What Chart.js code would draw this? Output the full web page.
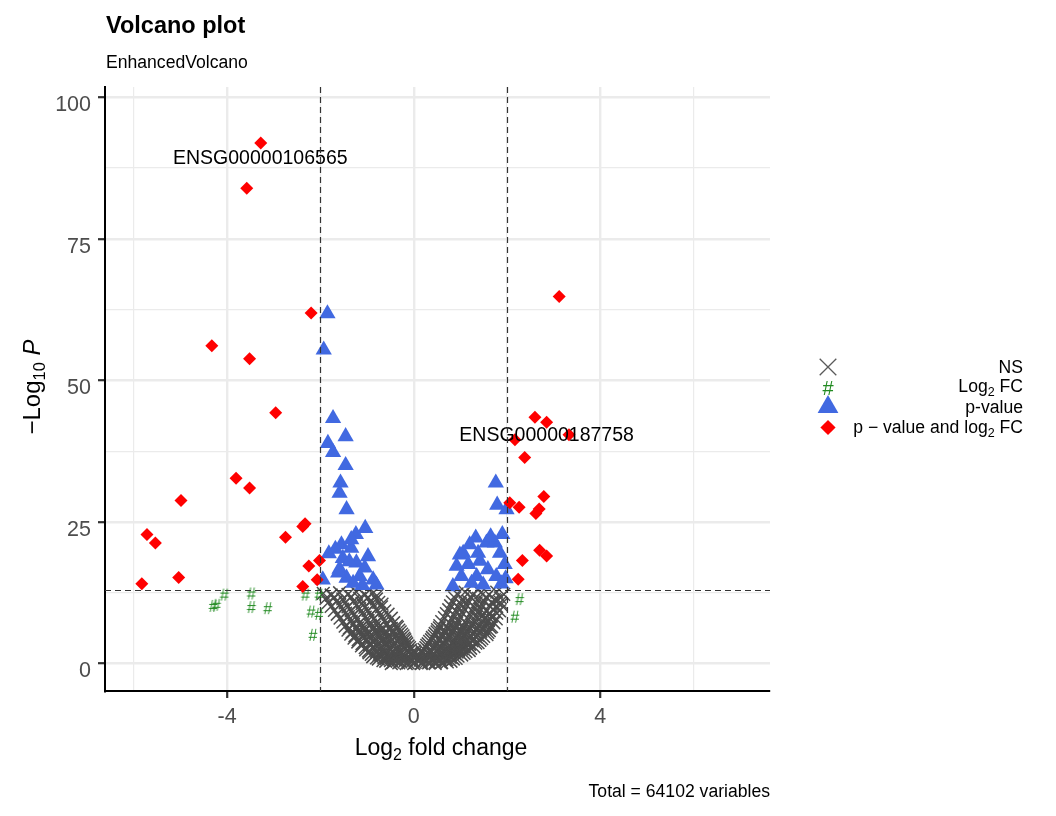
<!DOCTYPE html>
<html><head><meta charset="utf-8">
<script src="https://cdn.jsdelivr.net/npm/chart.js@4.4.1/dist/chart.umd.min.js"></script>
<style>html,body{margin:0;padding:0;background:#fff;}canvas{display:block;}</style>
</head><body>
<canvas id="c" width="1056" height="816"></canvas>
<script>
const FONT = '"Liberation Sans", Arial, Helvetica, sans-serif';
const titleText = 'Volcano plot';
const subtitleText = 'EnhancedVolcano';
const captionText = 'Total = 64102 variables';
const legendNames = ['NS', 'Log2 FC', 'p-value', 'p - value and log2 FC'];
const xTicks = [-6, -4, -2, 0, 2, 4, 6];
const xTickLabels = ['', '-4', '', '0', '', '4', ''];
const yTicks = [0, 12.5, 25, 37.5, 50, 62.5, 75, 87.5, 100];
const yTickLabels = ['0', '', '25', '', '50', '', '75', '', '100'];
const xRange = [-6.62, 7.64];
const yRange = [-4.85, 101.8];
const fcCutoff = 2;
const pCutoffLine = 12.9;
const geneNames = ['ENSG00000106565', 'ENSG00000187758'];
const geneLabelX = [-3.29, 2.85];
const geneLabelY = [89.1, 40.2];

const nsPoints = [
 [-1.94,12.4],[-1.77,12.1],[-1.59,12.5],[-1.41,12.2],[-1.23,12.6],[-1.05,12.1],[-0.88,12.4],[-0.79,12.0],
 [0.93,12.3],[1.10,12.6],[1.27,12.1],[1.44,12.5],[1.61,12.2],[1.78,12.6],[1.93,12.2],
 [-1.88,11.5],[-1.70,11.7],[-1.52,11.4],[-1.34,11.8],[-1.16,11.5],[-0.98,11.7],[-0.80,11.4],
 [0.88,11.6],[1.05,11.4],[1.22,11.8],[1.39,11.5],[1.56,11.7],[1.73,11.3],[1.86,11.6],
 [-1.83,10.8],[-1.65,11.0],[-1.47,10.7],[-1.29,11.0],[-1.11,10.6],[-0.93,11.0],[-0.75,10.8],[-0.68,10.5],
 [0.83,10.9],[1.00,10.6],[1.17,11.0],[1.34,10.7],[1.51,11.0],[1.68,10.7],[1.76,11.1],[1.86,10.8],
 [-1.77,10.1],[-1.59,10.3],[-1.41,10.0],[-1.23,10.3],[-1.05,9.9],[-0.87,10.2],[-0.69,10.0],
 [0.79,10.2],[0.96,9.9],[1.13,10.3],[1.30,10.0],[1.47,10.3],[1.64,10.0],[1.78,10.1],[1.87,10.4],
 [-1.70,9.4],[-1.52,9.6],[-1.34,9.3],[-1.16,9.7],[-0.98,9.4],[-0.80,9.6],[-0.62,9.3],
 [0.75,9.5],[0.92,9.2],[1.09,9.6],[1.26,9.3],[1.43,9.6],[1.56,9.4],[1.70,9.6],[1.84,9.3],
 [-1.64,8.7],[-1.46,8.9],[-1.28,8.6],[-1.10,8.9],[-0.92,8.6],[-0.74,8.9],[-0.55,8.7],
 [0.70,8.8],[0.87,8.5],[1.04,8.9],[1.21,8.6],[1.38,8.9],[1.49,8.6],[1.63,8.7],[1.78,8.9],
 [-1.58,8.0],[-1.40,8.3],[-1.22,7.9],[-1.04,8.2],[-0.86,7.9],[-0.68,8.2],[-0.48,8.0],
 [0.66,8.1],[0.83,7.8],[1.00,8.2],[1.17,7.9],[1.34,8.2],[1.40,7.7],[1.52,8.0],[1.66,8.3],[1.77,7.9],
 [-1.52,7.3],[-1.34,7.5],[-1.16,7.2],[-0.98,7.6],[-0.80,7.3],[-0.62,7.5],[-0.43,7.2],
 [0.60,7.4],[0.77,7.1],[0.94,7.5],[1.11,7.2],[1.29,7.4],[1.45,7.3],[1.60,7.6],[1.72,7.2],
 [-1.47,6.6],[-1.29,6.9],[-1.11,6.5],[-0.93,6.8],[-0.75,6.5],[-0.57,6.9],[-0.37,6.6],
 [0.56,6.7],[0.73,6.4],[0.90,6.8],[1.07,6.5],[1.24,6.8],[1.40,6.6],[1.55,6.9],[1.67,6.5],
 [-1.38,6.3],[-1.20,6.3],[-1.02,6.2],[-0.84,6.4],[-0.66,6.3],[-0.48,6.2],[-0.35,6.4],
 [0.55,6.3],[0.72,6.2],[0.89,6.4],[1.06,6.2],[1.20,6.3],[1.36,6.3],[1.52,6.2],[1.64,6.4],
 [-1.41,5.9],[-1.23,6.2],[-1.05,5.8],[-0.87,6.1],[-0.69,5.8],[-0.51,6.1],[-0.32,5.9],
 [0.51,6.0],[0.68,5.7],[0.85,6.1],[1.02,5.8],[1.18,6.0],[1.33,5.9],[1.48,6.1],[1.62,5.8],
 [-1.32,5.6],[-1.14,5.7],[-0.96,5.6],[-0.78,5.6],[-0.60,5.7],[-0.42,5.6],[-0.29,5.6],
 [0.50,5.6],[0.67,5.5],[0.84,5.7],[1.01,5.6],[1.14,5.6],[1.29,5.6],[1.44,5.7],[1.59,5.5],
 [-1.35,5.2],[-1.17,5.5],[-0.99,5.1],[-0.81,5.4],[-0.63,5.1],[-0.45,5.4],[-0.26,5.2],
 [0.46,5.3],[0.63,5.0],[0.80,5.4],[0.97,5.1],[1.12,5.3],[1.27,5.2],[1.42,5.4],[1.57,5.1],
 [-1.26,4.9],[-1.08,4.9],[-0.90,5.0],[-0.72,4.8],[-0.54,4.9],[-0.36,5.0],[-0.23,4.9],
 [0.44,4.9],[0.61,4.8],[0.78,5.0],[0.95,4.9],[1.08,4.9],[1.23,4.9],[1.37,5.0],[1.50,4.8],
 [-1.28,4.5],[-1.10,4.8],[-0.92,4.4],[-0.74,4.7],[-0.56,4.4],[-0.38,4.7],[-0.21,4.5],
 [0.40,4.6],[0.57,4.3],[0.74,4.7],[0.91,4.4],[1.05,4.6],[1.19,4.5],[1.33,4.7],[1.46,4.4],
 [-1.19,4.2],[-1.01,4.2],[-0.83,4.3],[-0.65,4.2],[-0.47,4.2],[-0.30,4.3],[-0.19,4.2],
 [0.38,4.2],[0.55,4.2],[0.72,4.3],[0.88,4.2],[1.00,4.2],[1.14,4.2],[1.28,4.3],[1.42,4.1],
 [-1.20,3.8],[-1.03,4.1],[-0.86,3.7],[-0.69,4.0],[-0.52,3.7],[-0.35,4.0],[-0.17,3.8],
 [0.34,3.9],[0.51,3.6],[0.68,4.0],[0.85,3.7],[0.98,3.9],[1.12,3.8],[1.25,4.0],[1.38,3.7],
 [-1.11,3.5],[-0.94,3.4],[-0.77,3.5],[-0.60,3.6],[-0.43,3.5],[-0.27,3.4],[-0.15,3.5],
 [0.31,3.5],[0.48,3.4],[0.64,3.5],[0.80,3.6],[0.92,3.5],[1.06,3.5],[1.20,3.4],[1.33,3.6],
 [-1.12,3.1],[-0.95,3.3],[-0.78,3.0],[-0.61,3.3],[-0.44,3.0],[-0.27,3.3],[-0.12,3.1],
 [0.28,3.2],[0.45,2.9],[0.62,3.3],[0.78,3.0],[0.88,3.2],[1.02,3.1],[1.16,3.3],[1.29,3.0],
 [-1.04,2.8],[-0.87,2.8],[-0.70,2.9],[-0.53,2.8],[-0.36,2.8],[-0.20,2.9],[-0.09,2.8],
 [0.26,2.8],[0.42,2.8],[0.58,2.9],[0.74,2.8],[0.80,2.7],[0.93,2.8],[1.08,2.9],[1.22,2.7],
 [-1.03,2.4],[-0.86,2.7],[-0.69,2.3],[-0.52,2.6],[-0.35,2.3],[-0.19,2.6],[-0.07,2.4],
 [0.22,2.5],[0.38,2.2],[0.54,2.6],[0.70,2.3],[0.86,2.4],[1.03,2.6],[1.19,2.3],
 [-0.97,2.2],[-0.80,2.2],[-0.63,2.3],[-0.46,2.2],[-0.29,2.2],[-0.13,2.3],[0.02,2.2],[0.17,2.2],[0.33,2.3],[0.49,2.2],[0.64,2.2],[0.80,2.2],[0.96,2.3],[1.12,2.1],
 [-0.96,1.9],[-0.79,2.0],[-0.62,1.8],[-0.45,2.0],[-0.28,1.7],[-0.12,2.0],[0.03,1.8],[0.18,1.9],[0.34,1.7],[0.50,2.0],[0.62,1.8],[0.77,1.9],[0.93,2.0],[1.08,1.8],
 [-0.91,1.6],[-0.74,1.6],[-0.57,1.7],[-0.40,1.6],[-0.23,1.6],[-0.07,1.7],[0.09,1.6],[0.25,1.6],[0.41,1.7],[0.57,1.6],[0.73,1.6],[0.89,1.7],[1.03,1.5],
 [-0.88,1.2],[-0.71,1.5],[-0.54,1.1],[-0.37,1.4],[-0.20,1.1],[-0.04,1.4],[0.12,1.1],[0.28,1.4],[0.44,1.2],[0.52,1.0],[0.66,1.3],[0.81,1.1],[0.95,1.3],
 [-0.80,1.0],[-0.64,1.0],[-0.47,1.1],[-0.31,1.0],[-0.15,1.0],[0.01,1.1],[0.17,1.0],[0.33,1.0],[0.48,1.1],[0.63,1.0],[0.78,1.1],[0.91,0.9],
 [-0.76,0.8],[-0.59,0.9],[-0.42,0.7],[-0.25,0.9],[-0.08,0.6],[0.08,0.8],[0.24,0.7],[0.40,0.8],[0.56,0.8],[0.71,0.7],[0.85,0.8],
 [-0.66,0.5],[-0.50,0.5],[-0.34,0.6],[-0.18,0.5],[-0.02,0.5],[0.14,0.6],[0.29,0.5],[0.41,0.5],[0.55,0.5],[0.68,0.6],[0.80,0.4],
 [-0.60,0.4],[-0.44,0.2],[-0.28,0.3],[-0.12,0.1],[0.03,0.2],[0.18,0.1],[0.33,0.3],[0.47,0.3],[0.60,0.2],[0.72,0.3],
 [-0.48,0.0],[-0.32,0.1],[-0.16,0.0],[0.00,0.0],[0.16,0.0],[0.32,0.1],[0.46,0.0],[0.59,0.1]
];
const fcPoints = [
 [-4.06,12.0],[-4.23,10.2],[-4.30,10.0],[-3.48,12.2],[-3.48,9.8],[-3.13,9.6],
 [-2.32,12.0],[-2.03,12.0],[-2.20,9.0],[-2.03,8.6],[-2.16,4.9],
 [2.27,11.2],[2.17,8.1]
];
const pPoints = [
 [-1.85,61.8],[-1.93,55.4],[-1.73,43.3],[-1.46,40.1],[-1.84,38.9],[-1.73,37.3],[-1.46,35.0],
 [-1.57,31.9],[-1.59,30.1],[-1.44,27.2],[-1.04,23.9],[-1.24,22.8],[-1.55,21.0],[-1.82,19.4],
 [-1.34,20.4],[-0.98,18.9],[-1.52,18.6],[-1.23,17.8],[-1.59,16.7],[-1.05,16.9],[-1.44,15.1],
 [-1.16,15.4],[-0.87,14.8],[-1.95,14.8],[-0.80,13.9],[-1.62,16.0],[-1.34,21.9],[-1.38,18.0],
 [-1.68,20.2],[-1.10,13.8],[-1.30,14.2],
 [1.76,31.9],[1.79,28.0],[1.99,27.2],[1.33,22.2],[1.90,22.8],[1.56,21.3],[1.74,21.3],
 [0.99,19.2],[1.38,19.5],[1.85,19.5],[0.92,17.2],[1.17,17.5],[1.42,18.1],[1.59,16.6],
 [1.95,17.5],[1.02,15.4],[1.35,15.4],[1.77,15.4],[0.84,13.6],[1.49,13.9],[1.88,14.1],
 [1.24,14.2],[1.06,19.5],[1.65,22.4],[1.20,21.0],[1.97,15.0]
];
const bothPoints = [
 [-3.28,91.9],[-3.58,83.9],[-2.20,61.9],[-4.33,56.1],[-3.52,53.8],[-2.96,44.3],[-3.81,32.7],
 [-3.52,31.0],[-4.99,28.8],[-5.72,22.8],[-5.54,21.3],[-5.83,14.1],[-5.04,15.2],[-2.33,24.7],
 [-2.38,24.2],[-2.75,22.3],[-2.02,18.2],[-2.25,17.2],[-2.07,14.8],[-2.38,13.6],
 [3.12,64.8],[2.60,43.5],[2.85,42.6],[3.33,40.4],[2.17,39.5],[2.38,36.4],[2.79,29.5],
 [2.06,28.4],[2.26,27.6],[2.69,27.3],[2.62,26.5],[2.70,20.0],[2.85,19.0],[2.33,18.2],[2.24,14.9]
];

const COL_NS = '#4d4d4d', COL_FC = '#228B22', COL_P = '#4169E1', COL_BOTH = '#FF0000';
const toXY = a => a.map(p => ({x: p[0], y: p[1]}));

function hashImage(size, color) {
  const cv = document.createElement('canvas');
  cv.width = Math.ceil(size); cv.height = Math.ceil(size * 1.1);
  const g = cv.getContext('2d');
  g.fillStyle = color; g.font = size + 'px ' + FONT;
  g.textAlign = 'center'; g.textBaseline = 'middle';
  g.fillText('#', cv.width / 2, cv.height / 2 + 1);
  return cv;
}
const hashPlot = hashImage(16, COL_FC);

function drawRich(ctx, segs, x, y, align) {
  let total = 0;
  segs.forEach(s => { ctx.font = (s.style || '') + ' ' + s.size + 'px ' + FONT; s.w = ctx.measureText(s.t).width; total += s.w; });
  let cx = align === 'right' ? x - total : align === 'center' ? x - total / 2 : x;
  ctx.textAlign = 'left'; ctx.textBaseline = 'alphabetic';
  segs.forEach(s => { ctx.font = (s.style || '') + ' ' + s.size + 'px ' + FONT; ctx.fillText(s.t, cx, y + (s.dy || 0)); cx += s.w; });
}

const decor = {
  id: 'decor',
  afterDatasetsDraw(chart) {
    const ctx = chart.ctx, xs = chart.scales.x, ys = chart.scales.y, a = chart.chartArea;
    ctx.save();
    ctx.fillStyle = '#000'; ctx.font = '19.5px ' + FONT; ctx.textAlign = 'center'; ctx.textBaseline = 'middle';
    geneNames.forEach((n, i) => ctx.fillText(n, xs.getPixelForValue(geneLabelX[i]), ys.getPixelForValue(geneLabelY[i])));
    ctx.beginPath(); ctx.rect(a.left, a.top, a.right - a.left, a.bottom - a.top); ctx.clip();
    ctx.strokeStyle = '#333'; ctx.lineWidth = 1.2; ctx.setLineDash([6, 4]);
    [-fcCutoff, fcCutoff].forEach(v => { const px = Math.round(xs.getPixelForValue(v)) + 0.5; ctx.beginPath(); ctx.moveTo(px, a.top); ctx.lineTo(px, a.bottom); ctx.stroke(); });
    const py = Math.round(ys.getPixelForValue(pCutoffLine)) + 0.5;
    ctx.beginPath(); ctx.moveTo(a.left, py); ctx.lineTo(a.right, py); ctx.stroke();
    ctx.restore();
  },
  afterDraw(chart) {
    const ctx = chart.ctx;
    ctx.save();
    ctx.fillStyle = '#000';
    ctx.textAlign = 'left'; ctx.textBaseline = 'alphabetic';
    ctx.font = 'bold 23.5px ' + FONT; ctx.fillText(titleText, 106, 33);
    ctx.font = '17.6px ' + FONT; ctx.fillText(subtitleText, 106, 67.5);
    ctx.textAlign = 'right'; ctx.fillText(captionText, 770, 797);
    drawRich(ctx, [{t: 'Log', size: 23}, {t: '2', size: 16, dy: 5}, {t: ' fold change', size: 23}], 441, 755, 'center');
    ctx.save(); ctx.translate(40, 387); ctx.rotate(-Math.PI / 2);
    drawRich(ctx, [{t: '\u2212Log', size: 24}, {t: '10', size: 16.5, dy: 5}, {t: ' ', size: 24}, {t: 'P', size: 24, style: 'italic'}], 0, 0, 'center');
    ctx.restore();
    const mx = 828, rx = 1023;
    ctx.strokeStyle = '#5a5a5a'; ctx.lineWidth = 1.3;
    let cy = 367, h = 8.3;
    ctx.beginPath(); ctx.moveTo(mx - h, cy - h); ctx.lineTo(mx + h, cy + h); ctx.moveTo(mx + h, cy - h); ctx.lineTo(mx - h, cy + h); ctx.stroke();
    ctx.fillStyle = COL_FC; ctx.font = '20px ' + FONT; ctx.textAlign = 'center'; ctx.textBaseline = 'middle';
    ctx.fillText('#', mx, 389);
    ctx.fillStyle = COL_P; cy = 407; const r = 12;
    ctx.beginPath(); ctx.moveTo(mx, cy - r); ctx.lineTo(mx + r * 0.866, cy + r * 0.5); ctx.lineTo(mx - r * 0.866, cy + r * 0.5); ctx.closePath(); ctx.fill();
    ctx.fillStyle = COL_BOTH; cy = 427.5; const d = 7.6;
    ctx.beginPath(); ctx.moveTo(mx, cy - d); ctx.lineTo(mx + d, cy); ctx.lineTo(mx, cy + d); ctx.lineTo(mx - d, cy); ctx.closePath(); ctx.fill();
    ctx.fillStyle = '#000';
    drawRich(ctx, [{t: legendNames[0], size: 17.6}], rx, 373, 'right');
    drawRich(ctx, [{t: 'Log', size: 17.6}, {t: '2', size: 12.5, dy: 4}, {t: ' FC', size: 17.6}], rx, 391.5, 'right');
    drawRich(ctx, [{t: legendNames[2], size: 17.6}], rx, 413, 'right');
    drawRich(ctx, [{t: 'p \u2212 value and log', size: 17.6}, {t: '2', size: 12.5, dy: 4}, {t: ' FC', size: 17.6}], rx, 432.5, 'right');
    ctx.restore();
  }
};

const isMajor = (v, arr, labels) => labels[arr.indexOf(v)] !== '';

new Chart(document.getElementById('c'), {
  type: 'scatter',
  data: {
    datasets: [
      {label: legendNames[0], data: toXY(nsPoints), pointStyle: 'crossRot', pointRadius: 9, borderColor: COL_NS, backgroundColor: COL_NS, pointBorderWidth: 1.5, order: 4},
      {label: legendNames[1], data: toXY(fcPoints), pointStyle: hashPlot, pointRadius: 7, order: 3},
      {label: legendNames[2], data: toXY(pPoints), pointStyle: 'triangle', pointRadius: 9.4, borderColor: COL_P, backgroundColor: COL_P, pointBorderWidth: 0, order: 2},
      {label: legendNames[3], data: toXY(bothPoints), pointStyle: 'rectRot', pointRadius: 6.5, borderColor: COL_BOTH, backgroundColor: COL_BOTH, pointBorderWidth: 0, order: 1}
    ]
  },
  options: {
    responsive: false, animation: false, devicePixelRatio: 1,
    layout: {padding: {top: 87, right: 286, left: 0, bottom: 0}},
    plugins: {legend: {display: false}, tooltip: {enabled: false}, title: {display: false}},
    scales: {
      x: {
        type: 'linear', min: xRange[0], max: xRange[1],
        afterBuildTicks: s => { s.ticks = xTicks.map(v => ({value: v})); },
        afterFit: s => { s.height = 125; },
        ticks: {callback: (v) => xTickLabels[xTicks.indexOf(v)] ?? '', color: '#4d4d4d', font: {size: 21.5, family: FONT}, padding: 6, maxRotation: 0, autoSkip: false},
        grid: {color: '#ebebeb', lineWidth: c => isMajor(c.tick.value, xTicks, xTickLabels) ? 2.4 : 1.2, tickLength: 7, tickWidth: 2.2,
               tickColor: c => isMajor(c.tick.value, xTicks, xTickLabels) ? '#333' : 'rgba(0,0,0,0)'},
        border: {display: true, color: '#000', width: 2}
      },
      y: {
        type: 'linear', min: yRange[0], max: yRange[1],
        afterBuildTicks: s => { s.ticks = yTicks.map(v => ({value: v})); },
        afterFit: s => { s.width = 105; },
        ticks: {callback: (v) => yTickLabels[yTicks.indexOf(v)] ?? '', color: '#4d4d4d', font: {size: 21.5, family: FONT}, padding: 7, labelOffset: 8, autoSkip: false},
        grid: {color: '#ebebeb', lineWidth: c => isMajor(c.tick.value, yTicks, yTickLabels) ? 2.4 : 1.2, tickLength: 7, tickWidth: 2.2,
               tickColor: c => isMajor(c.tick.value, yTicks, yTickLabels) ? '#333' : 'rgba(0,0,0,0)'},
        border: {display: true, color: '#000', width: 2}
      }
    }
  },
  plugins: [decor]
});
</script>
</body></html>
